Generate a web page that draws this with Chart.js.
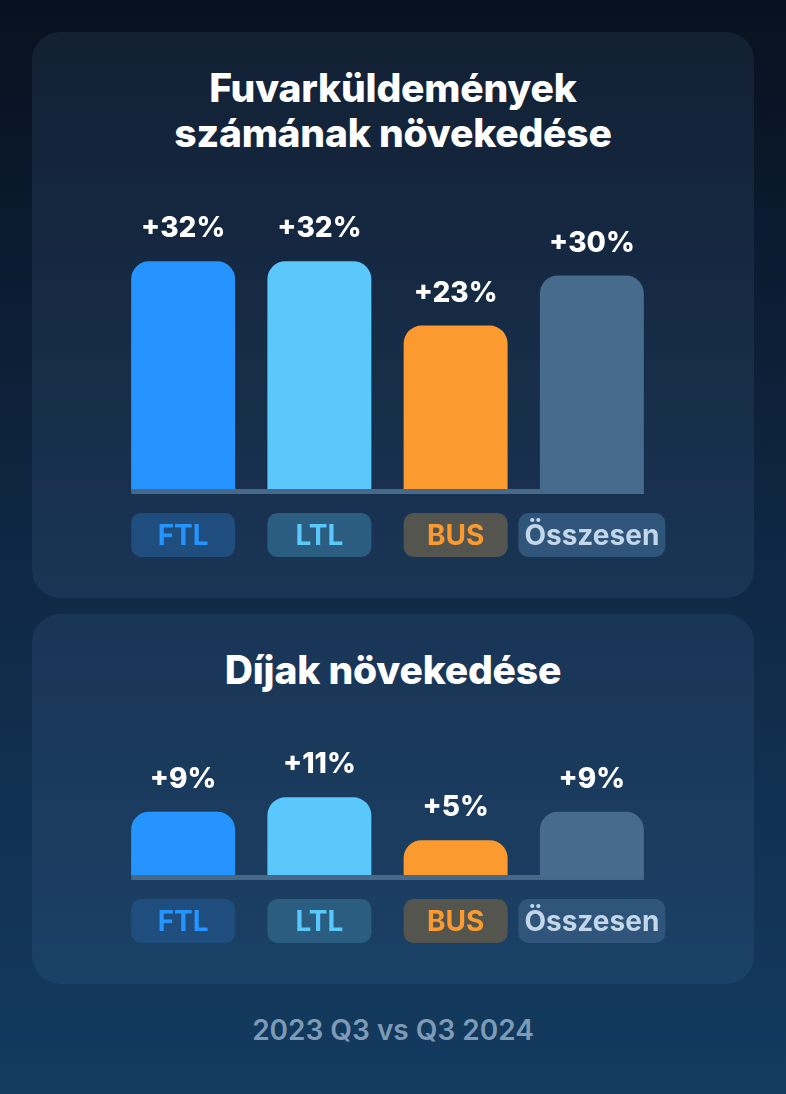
<!DOCTYPE html>
<html>
<head>
<meta charset="utf-8">
<script src="https://cdn.jsdelivr.net/npm/chart.js@4.4.1/dist/chart.umd.min.js"></script>
<style>
  html, body { margin: 0; padding: 0; }
  body {
    width: 786px; height: 1094px; overflow: hidden; position: relative;
    background: linear-gradient(180deg, #08111f 0%, #0f2744 50%, #133b60 100%);
    font-family: Inter, "Noto Sans", sans-serif;
  }
  .panel { position: absolute; left: 32px; width: 722px; border-radius: 28px; background: rgba(100, 140, 190, 0.12); }
  #p1 { top: 32px; height: 566px; }
  #p2 { top: 614px; height: 370px; }
  .title { position: absolute; left: 0; width: 786px; text-align: center; color: #fff;
    font-weight: 800; font-size: 39px; line-height: 45px; letter-spacing: -0.2px; }
  #t1 { top: 65px; }
  #t2 { top: 647px; }
  .foot { position: absolute; left: 0; top: 1013px; width: 786px; text-align: center;
    color: #7d9ab6; font-size: 28px; font-weight: 600; }
  canvas { position: absolute; left: 100px; }
  #c1 { top: 180px; }
  #c2 { top: 710px; }
</style>
</head>
<body>
<div class="panel" id="p1"></div>
<div class="panel" id="p2"></div>
<div class="title" id="t1">Fuvarküldemények<br>számának növekedése</div>
<div class="title" id="t2">Díjak növekedése</div>
<canvas id="c1" width="600" height="400"></canvas>
<canvas id="c2" width="600" height="260"></canvas>
<div class="foot">2023 Q3 vs Q3 2024</div>
<script>
'use strict'
{
  const categories = ['FTL', 'LTL', 'BUS', 'Összesen'];
  const shipmentGrowth = [32, 32, 23, 30];
  const feeGrowth = [9, 11, 5, 9];

  const barColors = ['#2594ff', '#5ac8fa', '#fb9b2f', '#466b8c'];
  const pillColors = ['#1f4e7e', '#2a5d80', '#55554f', '#30557a'];
  const pillText = ['#2594ff', '#5ac8fa', '#fb9b2f', '#c3d6ea'];

  // value labels, baseline line and category pills
  const decor = {
    id: 'decor',
    afterDatasetsDraw(chart) {
      const ctx = chart.ctx;
      const bars = chart.getDatasetMeta(0).data;
      const values = chart.data.datasets[0].data;
      const base = bars[0].base;
      ctx.save();

      const first = bars[0], last = bars[bars.length - 1];
      ctx.fillStyle = '#46698a';
      ctx.fillRect(first.x - first.width / 2, base - 1, last.x + last.width / 2 - (first.x - first.width / 2), 5);

      ctx.textAlign = 'center';
      bars.forEach((bar, i) => {
        ctx.fillStyle = '#ffffff';
        ctx.font = '800 28px Inter';
        ctx.textBaseline = 'alphabetic';
        ctx.fillText('+' + values[i] + '%', bar.x, bar.y - 24);

        ctx.font = '700 28px Inter';
        const label = chart.data.labels[i];
        const w = Math.max(bar.width, ctx.measureText(label).width + 12);
        const top = base + 23;
        ctx.fillStyle = pillColors[i];
        ctx.beginPath();
        ctx.roundRect(bar.x - w / 2, top, w, 44, 10);
        ctx.fill();
        ctx.fillStyle = pillText[i];
        ctx.textBaseline = 'middle';
        ctx.fillText(label, bar.x, top + 24);
      });
      ctx.restore();
    }
  };

  const makeChart = (id, values, max, pad) => new Chart(document.getElementById(id), {
    type: 'bar',
    data: {
      labels: categories,
      datasets: [{
        data: values,
        backgroundColor: barColors,
        borderRadius: { topLeft: 18, topRight: 18, bottomLeft: 0, bottomRight: 0 },
        borderSkipped: 'start',
        categoryPercentage: 1,
        barPercentage: 0.763,
      }],
    },
    options: {
      responsive: false,
      animation: false,
      layout: { padding: pad },
      plugins: { legend: { display: false }, tooltip: { enabled: false } },
      scales: {
        x: { display: false },
        y: { display: false, min: 0, max: max },
      },
    },
    plugins: [decor],
  });

  makeChart('c1', shipmentGrowth, 40, { left: 15, right: 40, top: 24, bottom: 90 });
  makeChart('c2', feeGrowth, 20, { left: 15, right: 40, top: 23, bottom: 94 });
}
</script>
</body>
</html>
